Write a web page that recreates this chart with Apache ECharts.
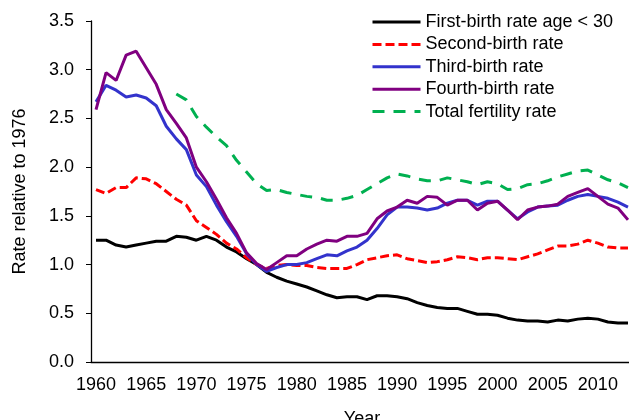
<!DOCTYPE html>
<html>
<head>
<meta charset="utf-8">
<script src="https://cdn.jsdelivr.net/npm/echarts@6/dist/echarts.min.js"></script>
<style>
  html, body { margin: 0; padding: 0; background: #fff; }
  #chart { width: 629px; height: 420px; }
</style>
</head>
<body>
<div id="chart"></div>
<script>
// years 1960..2013, values relative to 1976
const years = []
for (let y = 1960; y <= 2013; y++) years.push(String(y))

const firstBirth = [1.25, 1.25, 1.20, 1.18, 1.20, 1.22, 1.24, 1.24, 1.29, 1.28,
  1.25, 1.29, 1.25, 1.18, 1.13, 1.06, 1.00, 0.92, 0.87, 0.83,
  0.80, 0.77, 0.73, 0.69, 0.66, 0.67, 0.67, 0.64, 0.68, 0.68,
  0.67, 0.65, 0.61, 0.58, 0.56, 0.55, 0.55, 0.52, 0.49, 0.49,
  0.48, 0.45, 0.43, 0.42, 0.42, 0.41, 0.43, 0.42, 0.44, 0.45,
  0.44, 0.41, 0.40, 0.40]

const secondBirth = [1.77, 1.73, 1.79, 1.79, 1.89, 1.88, 1.83, 1.75, 1.67, 1.61,
  1.45, 1.38, 1.31, 1.22, 1.16, 1.07, 1.00, 0.96, 0.99, 1.00,
  0.99, 0.99, 0.97, 0.96, 0.96, 0.96, 1.00, 1.05, 1.07, 1.09,
  1.10, 1.06, 1.04, 1.02, 1.03, 1.05, 1.08, 1.07, 1.05, 1.07,
  1.07, 1.06, 1.05, 1.08, 1.11, 1.15, 1.19, 1.19, 1.21, 1.25,
  1.22, 1.18, 1.17, 1.17]

const thirdBirth = [2.67, 2.84, 2.79, 2.72, 2.74, 2.71, 2.63, 2.42, 2.29, 2.18,
  1.92, 1.80, 1.61, 1.44, 1.29, 1.11, 1.00, 0.93, 0.97, 1.00,
  1.00, 1.02, 1.06, 1.10, 1.09, 1.14, 1.18, 1.25, 1.37, 1.51,
  1.59, 1.59, 1.58, 1.56, 1.58, 1.63, 1.66, 1.66, 1.61, 1.65,
  1.65, 1.56, 1.47, 1.54, 1.59, 1.60, 1.61, 1.66, 1.70, 1.72,
  1.70, 1.68, 1.64, 1.59]

const fourthBirth = [2.59, 2.97, 2.89, 3.15, 3.19, 3.02, 2.85, 2.59, 2.45, 2.30,
  2.00, 1.85, 1.67, 1.48, 1.32, 1.12, 1.01, 0.95, 1.02, 1.09,
  1.09, 1.16, 1.21, 1.25, 1.24, 1.29, 1.29, 1.32, 1.47, 1.55,
  1.59, 1.66, 1.63, 1.70, 1.69, 1.61, 1.66, 1.66, 1.56, 1.63,
  1.65, 1.56, 1.46, 1.56, 1.59, 1.60, 1.62, 1.70, 1.74, 1.78,
  1.70, 1.62, 1.58, 1.46]

const totalFertility = [null, null, null, null, null, null, null, null, 2.75, 2.69,
  2.52, 2.41, 2.31, 2.22, 2.07, 1.95, 1.83, 1.76, 1.77, 1.74,
  1.72, 1.70, 1.69, 1.66, 1.66, 1.68, 1.71, 1.77, 1.83, 1.89,
  1.93, 1.91, 1.88, 1.86, 1.86, 1.89, 1.87, 1.85, 1.82, 1.85,
  1.83, 1.77, 1.78, 1.82, 1.83, 1.86, 1.90, 1.93, 1.96, 1.97,
  1.92, 1.87, 1.84, 1.79]

const yMin = 0
const yMax = 3.5

const font = 'Liberation Sans, Arial, sans-serif'

function makeSeries (name, vals, color, dash) {
  return {
    name: name,
    type: 'line',
    data: vals,
    symbol: 'none',
    lineStyle: {
      color: color,
      width: 3,
      type: dash || 'solid'
    },
    itemStyle: { color: color }
  }
}

const option = {
  backgroundColor: '#fff',
  animation: false,
  grid: {
    left: 91,
    right: -4,
    top: 21,
    bottom: 58,
    containLabel: false,
    outerBoundsMode: 'none'
  },
  legend: {
    orient: 'vertical',
    left: 371,
    top: 13,
    padding: 0,
    itemWidth: 48,
    itemHeight: 14,
    itemGap: 4.4,
    itemStyle: { opacity: 0 },
    lineStyle: { width: 3 },
    textStyle: {
      fontFamily: font,
      fontSize: 18,
      lineHeight: 18,
      color: '#000'
    },
    data: ['First-birth rate age < 30', 'Second-birth rate', 'Third-birth rate',
      'Fourth-birth rate', 'Total fertility rate']
  },
  xAxis: {
    type: 'category',
    data: years,
    boundaryGap: true,
    name: 'Year',
    nameLocation: 'middle',
    nameGap: 48,
    nameTextStyle: { fontFamily: font, fontSize: 18, color: '#000' },
    axisLine: { lineStyle: { color: '#000', width: 1.3 } },
    axisTick: { interval: 4, length: 4, lineStyle: { color: '#000' } },
    axisLabel: {
      interval: 4,
      margin: 14,
      fontFamily: font,
      fontSize: 18,
      color: '#000'
    },
    splitLine: { show: false }
  },
  yAxis: {
    type: 'value',
    min: yMin,
    max: yMax,
    interval: 0.5,
    name: 'Rate relative to 1976',
    nameLocation: 'middle',
    nameGap: 62,
    nameTextStyle: { fontFamily: font, fontSize: 18, color: '#000' },
    axisLine: { show: true, lineStyle: { color: '#000', width: 1.3 } },
    axisTick: { show: true, length: 5, lineStyle: { color: '#000' } },
    axisLabel: {
      margin: 17,
      fontFamily: font,
      fontSize: 18,
      color: '#000',
      formatter: (v) => v.toFixed(1)
    },
    splitLine: { show: false }
  },
  series: [
    makeSeries('First-birth rate age < 30', firstBirth, '#000000'),
    makeSeries('Second-birth rate', secondBirth, '#ff0000', [9, 4]),
    makeSeries('Third-birth rate', thirdBirth, '#3333cc'),
    makeSeries('Fourth-birth rate', fourthBirth, '#800080'),
    makeSeries('Total fertility rate', totalFertility, '#00b050', [12, 9])
  ]
}

const chart = echarts.init(document.getElementById('chart'))
chart.setOption(option)
</script>
</body>
</html>
